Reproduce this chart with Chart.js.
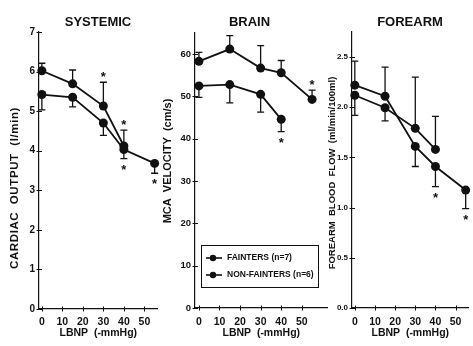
<!DOCTYPE html>
<html>
<head>
<meta charset="utf-8">
<script src="https://cdn.jsdelivr.net/npm/chart.js@4/dist/chart.umd.min.js"></script>
<style>
  html, body { margin: 0; padding: 0; background: #fff; }
  #fig { position: relative; width: 473px; height: 346px; overflow: hidden; }
  #fig canvas { position: absolute; top: 0; }
</style>
</head>
<body>
<div id="fig">
  <canvas id="systemic" style="left:0px" width="162" height="346"></canvas>
  <canvas id="brain" style="left:160px" width="172" height="346"></canvas>
  <canvas id="forearm" style="left:325px" width="148" height="346"></canvas>
</div>
<script>
// LBNP stages (-mmHg) and x tick labels
const lbnp = [0, 15, 30, 40, 55];
const xTickValues = [0, 10, 20, 30, 40, 50];
const seriesNames = ['FAINTERS (n=7)', 'NON-FAINTERS (n=6)'];

// SYSTEMIC - cardiac output (l/min); err = signed SEM bar, sig = asterisk
const coTicks = [0, 1, 2, 3, 4, 5, 6, 7];
const coFainters = [6.02, 5.69, 5.13, 4.12];
const coFaintersErr = [0.19, 0.35, 0.60, 0.40];
const coFaintersSig = [false, false, true, true];
const coNon = [5.42, 5.35, 4.70, 4.03, 3.68];
const coNonErr = [-0.39, -0.24, -0.31, -0.23, -0.25];
const coNonSig = [false, false, false, true, true];

// BRAIN - MCA velocity (cm/s)
const mcaTicks = [0, 10, 20, 30, 40, 50, 60];
const mcaFainters = [52.5, 52.8, 50.5, 44.6];
const mcaFaintersErr = [-2.7, -4.3, -4.2, -2.9];
const mcaFaintersSig = [false, false, false, true];
const mcaNon = [58.3, 61.2, 56.7, 55.6, 49.3];
const mcaNonErr = [2.1, 3.2, 5.3, 2.9, 2.2];
const mcaNonSig = [false, false, false, false, true];

// FOREARM - blood flow (ml/min/100ml)
const fbfTicks = [0, 0.5, 1.0, 1.5, 2.0, 2.5];
const fbfFainters = [2.12, 1.995, 1.79, 1.58];
const fbfFaintersErr = [-0.20, -0.13, 0.51, 0.33];
const fbfFaintersSig = [false, false, false, false];
const fbfNon = [2.22, 2.11, 1.61, 1.41, 1.175];
const fbfNonErr = [0.24, 0.29, -0.20, -0.20, -0.185];
const fbfNonSig = [false, false, false, true, true];

const FONT = '"Liberation Sans", Arial, Helvetica, sans-serif';
const INK = '#111';

// error bars, axis crosses, stars, headings, legend
const figureBits = {
  id: 'figureBits',
  beforeDatasetsDraw(chart) {
    const ctx = chart.ctx, y = chart.scales.y;
    ctx.save();
    ctx.strokeStyle = INK;
    ctx.lineWidth = 1.3;
    chart.data.datasets.forEach((ds, i) => {
      chart.getDatasetMeta(i).data.forEach((pt, j) => {
        const cap = y.getPixelForValue(ds.data[j].y + ds.err[j]);
        ctx.beginPath();
        ctx.moveTo(pt.x, pt.y);
        ctx.lineTo(pt.x, cap);
        ctx.moveTo(pt.x - 3.5, cap);
        ctx.lineTo(pt.x + 3.5, cap);
        ctx.stroke();
      });
    });
    ctx.restore();
  },
  afterDraw(chart, args, o) {
    const ctx = chart.ctx, x = chart.scales.x, y = chart.scales.y;
    ctx.save();
    ctx.fillStyle = INK;
    ctx.strokeStyle = INK;
    ctx.lineWidth = 1;

    // little "+" ticks across the axes
    x.ticks.forEach(t => {
      const px = Math.round(x.getPixelForValue(t.value)) + 0.5;
      ctx.beginPath();
      ctx.moveTo(px, y.bottom - 2.5);
      ctx.lineTo(px, y.bottom + 2.5);
      ctx.stroke();
    });
    y.ticks.forEach(t => {
      const py = Math.round(y.getPixelForValue(t.value)) + 0.5;
      ctx.beginPath();
      ctx.moveTo(x.left - 2.5, py);
      ctx.lineTo(x.left + 3, py);
      ctx.stroke();
    });

    // significance stars beyond the bar caps
    ctx.font = 'bold 13px ' + FONT;
    ctx.textAlign = 'center';
    ctx.textBaseline = 'alphabetic';
    chart.data.datasets.forEach((ds, i) => {
      chart.getDatasetMeta(i).data.forEach((pt, j) => {
        if (!ds.sig[j]) return;
        const cap = y.getPixelForValue(ds.data[j].y + ds.err[j]);
        const cy = ds.err[j] > 0 ? cap - 8 : cap + 8;
        ctx.fillText('*', pt.x, cy + 7);
      });
    });

    // panel heading
    ctx.font = 'bold 13px ' + FONT;
    ctx.textBaseline = 'middle';
    ctx.fillText(o.title, o.titleX, 22);

    // rotated y title
    ctx.save();
    ctx.translate(o.yTitleX, o.yTitleY);
    ctx.rotate(-Math.PI / 2);
    ctx.font = 'bold ' + o.yTitleSize + 'px ' + FONT;
    ctx.letterSpacing = o.yTitleSpacing || '0px';
    ctx.fillText(o.yTitle, 0, 0);
    ctx.restore();

    // boxed legend (brain panel only)
    if (o.legend) {
      const L = o.legend;
      ctx.lineWidth = 1;
      ctx.strokeRect(L.x + 0.5, L.y + 0.5, L.w, L.h);
      ctx.font = 'bold 8.5px "Liberation Sans Narrow", ' + FONT;
      ctx.textAlign = 'left';
      chart.data.datasets.forEach((ds, i) => {
        const ry = L.y + 13 + i * 17;
        ctx.lineWidth = 1.6;
        ctx.beginPath();
        ctx.moveTo(L.x + 5, ry);
        ctx.lineTo(L.x + 21, ry);
        ctx.stroke();
        ctx.beginPath();
        ctx.arc(L.x + 12, ry, 3.2, 0, Math.PI * 2);
        ctx.fill();
        ctx.fillText(ds.label, L.x + 26, ry);
      });
    }
    ctx.restore();
  }
};

function series(label, vals, err, sig) {
  return {
    label: label,
    data: vals.map((v, i) => ({ x: lbnp[i], y: v })),
    err: err,
    sig: sig,
    borderColor: INK,
    backgroundColor: INK,
    borderWidth: 1.8,
    pointRadius: 4.5,
    pointHoverRadius: 4.5,
    pointBorderWidth: 0,
    tension: 0,
    clip: false
  };
}

function panel(id, sets, o) {
  return new Chart(document.getElementById(id), {
    type: 'line',
    data: { datasets: sets },
    plugins: [figureBits],
    options: {
      responsive: false,
      animation: false,
      devicePixelRatio: 1,
      events: [],
      layout: { padding: { top: o.top, right: o.right, left: 0, bottom: 0 } },
      plugins: {
        legend: { display: false },
        tooltip: { enabled: false },
        figureBits: o.bits
      },
      scales: {
        x: {
          type: 'linear',
          min: o.xMin,
          max: o.xMax,
          afterBuildTicks: s => { s.ticks = xTickValues.map(v => ({ value: v })); },
          afterFit: s => { s.height = 346 - o.bottom; },
          grid: { display: false, drawTicks: false },
          border: { color: INK, width: 1.2 },
          ticks: {
            color: INK, padding: o.xPad, autoSkip: false, maxRotation: 0,
            font: { family: FONT, size: 10.5, weight: 'bold' }
          },
          title: {
            display: true, text: 'LBNP  (-mmHg)', color: INK,
            font: { family: FONT, size: 10.5, weight: 'bold' },
            padding: { top: 0, bottom: 6.5 }
          }
        },
        y: {
          type: 'linear',
          min: 0,
          max: o.yMax,
          afterBuildTicks: s => { s.ticks = o.yTicks.map(v => ({ value: v })); },
          afterFit: s => { s.width = o.yWidth; },
          grid: { display: false, drawTicks: false },
          border: { color: INK, width: 1.2 },
          ticks: {
            color: INK, padding: 4, autoSkip: false,
            font: { family: FONT, size: o.yTickSize, weight: 'bold' },
            callback: o.fmt || (v => v)
          }
        }
      }
    }
  });
}

panel('systemic', [
  series(seriesNames[0], coFainters, coFaintersErr, coFaintersSig),
  series(seriesNames[1], coNon, coNonErr, coNonSig)
], {
  top: 32, right: 2, bottom: 309, yWidth: 39, xMin: -1.4, xMax: 56.4, xPad: 7,
  yMax: 7, yTicks: coTicks, yTickSize: 10,
  bits: { title: 'SYSTEMIC', titleX: 98, yTitle: 'CARDIAC  OUTPUT  (l/min)',
          yTitleX: 15, yTitleY: 188, yTitleSize: 11.5, yTitleSpacing: '0.6px' }
});

panel('brain', [
  series(seriesNames[0], mcaFainters, mcaFaintersErr, mcaFaintersSig),
  series(seriesNames[1], mcaNon, mcaNonErr, mcaNonSig)
], {
  top: 33, right: 4, bottom: 308, yWidth: 35, xMin: -1.9, xMax: 62.5, xPad: 8,
  yMax: 65, yTicks: mcaTicks, yTickSize: 9.5,
  bits: { title: 'BRAIN', titleX: 89.5, yTitle: 'MCA  VELOCITY  (cm/s)',
          yTitleX: 8, yTitleY: 161, yTitleSize: 11,
          legend: { x: 41, y: 245, w: 117, h: 42 } }
});

panel('forearm', [
  series(seriesNames[0], fbfFainters, fbfFaintersErr, fbfFaintersSig),
  series(seriesNames[1], fbfNon, fbfNonErr, fbfNonSig)
], {
  top: 32, right: 0, bottom: 308, yWidth: 27, xMin: -1.4, xMax: 56.4, xPad: 8,
  yMax: 2.75, yTicks: fbfTicks, yTickSize: 8, fmt: v => v.toFixed(1),
  bits: { title: 'FOREARM', titleX: 85, yTitle: 'FOREARM  BLOOD  FLOW  (ml/min/100ml)',
          yTitleX: 7, yTitleY: 173, yTitleSize: 9.5 }
});
</script>
</body>
</html>
